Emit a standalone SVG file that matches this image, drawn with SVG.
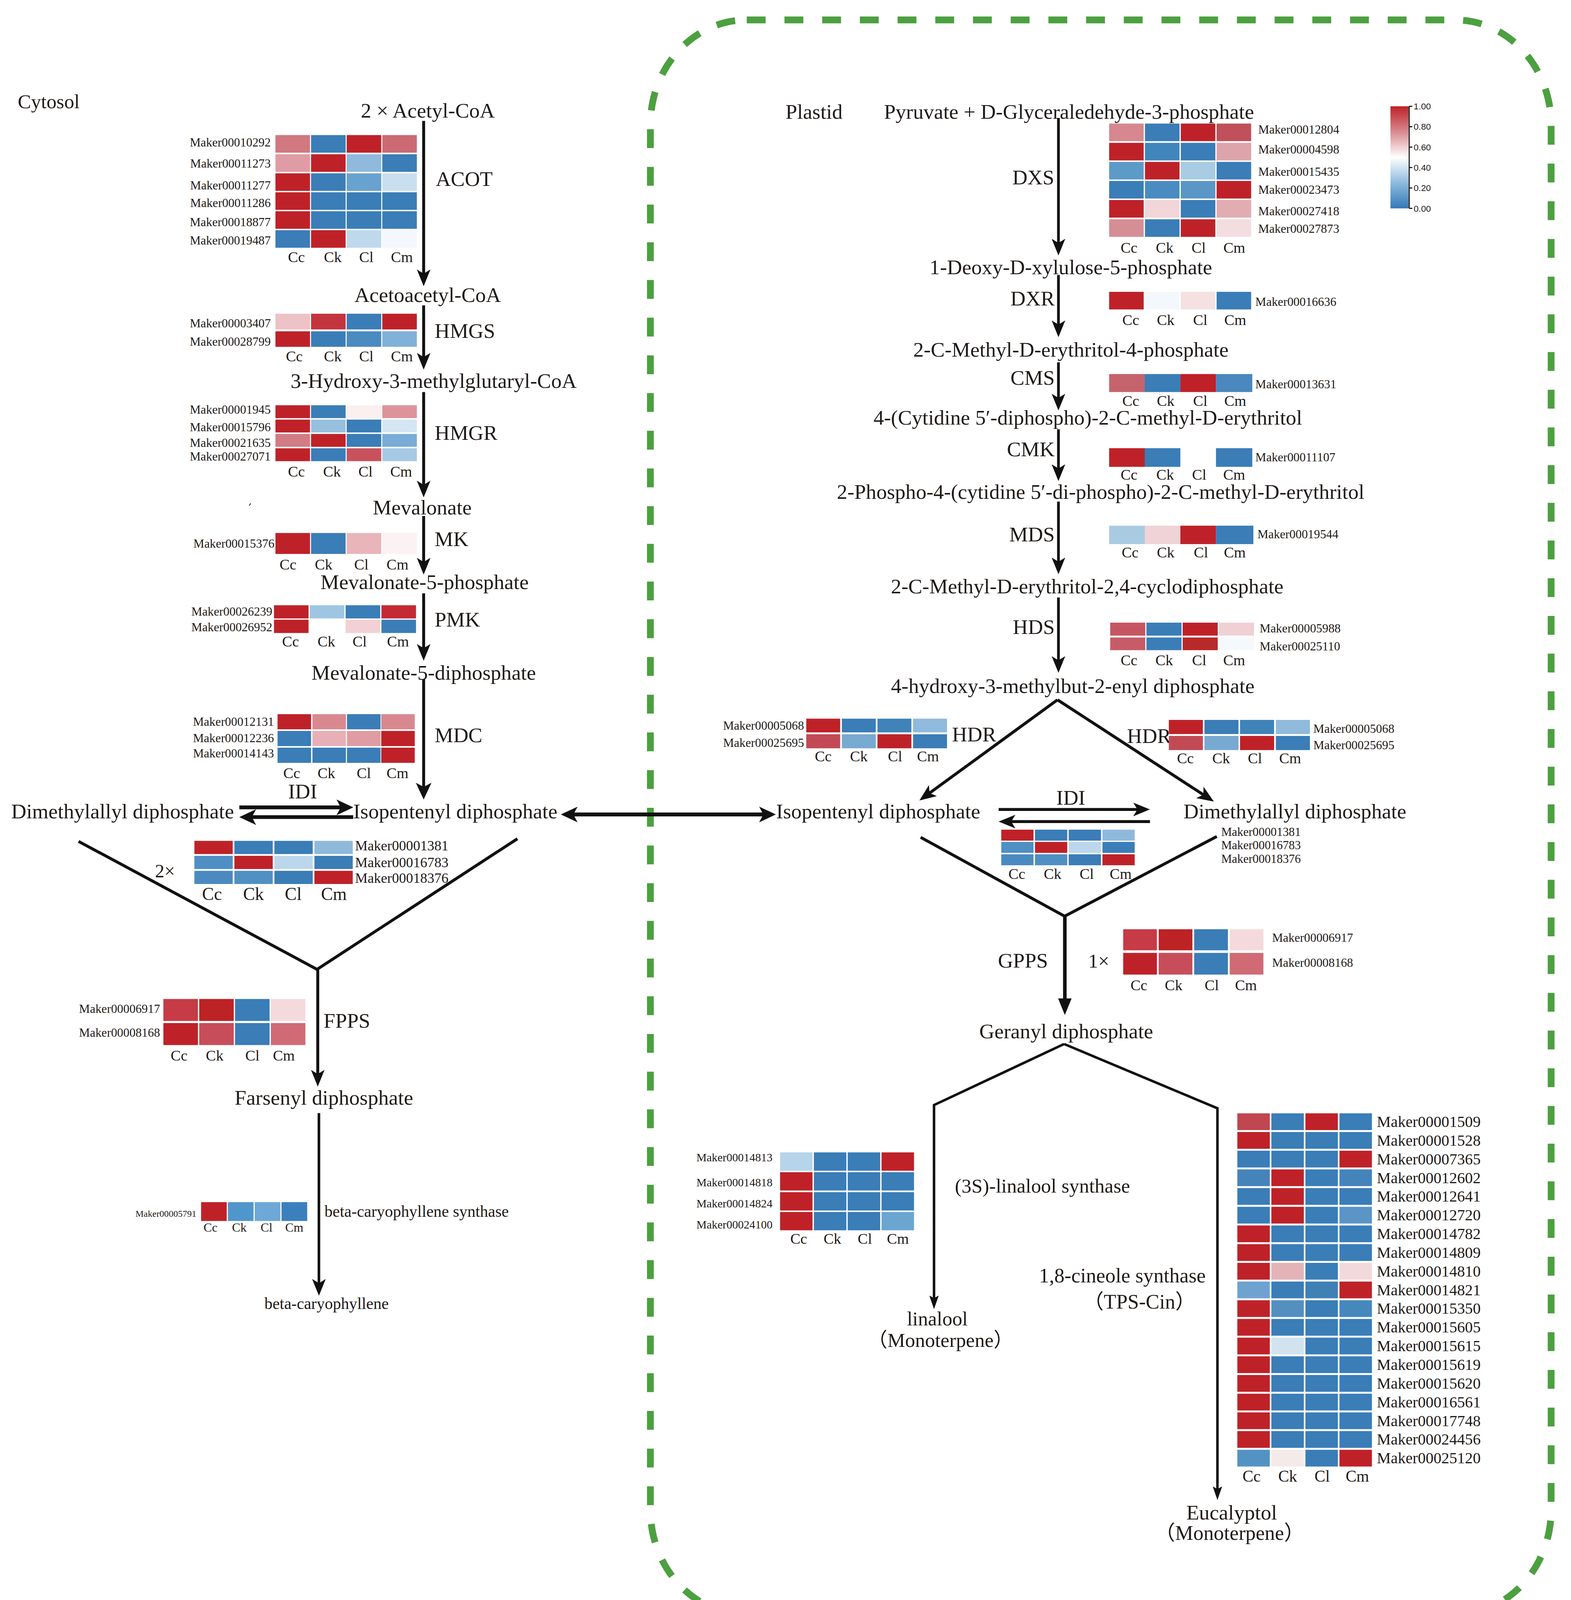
<svg xmlns="http://www.w3.org/2000/svg" width="4021" height="4179" viewBox="0 0 4021 4179">
<style>
.t{font-family:"Liberation Serif","Times New Roman","Noto Sans CJK SC",serif;fill:#1f1a17}
.m{font-size:20px}
.g{font-size:11.7px}
.c{font-size:14.5px}
.lg{font-family:"Liberation Sans",Arial,sans-serif;font-size:8.5px;fill:#1f1a17}
.R{fill:#be2228}
.B{fill:#3a7db7}
.ln{stroke:#111;fill:none}
</style>
<defs>
<marker id="ah" markerUnits="userSpaceOnUse" markerWidth="16" markerHeight="13" refX="8" refY="6.5" orient="auto-start-reverse"><path d="M0,0 L16,6.5 L0,13 L4,6.5 z" fill="#111"/></marker>
<marker id="ahl" markerUnits="userSpaceOnUse" markerWidth="16" markerHeight="15" refX="8" refY="7.5" orient="auto-start-reverse"><path d="M0,0 L16,7.5 L0,15 L4,7.5 z" fill="#111"/></marker>
<marker id="ahb" markerUnits="userSpaceOnUse" markerWidth="16" markerHeight="13" refX="8" refY="6.5" orient="auto"><path d="M0,0 L16,6.5 L0,13 z" fill="#111"/></marker>
<marker id="ahn" markerUnits="userSpaceOnUse" markerWidth="13" markerHeight="9" refX="6" refY="4.5" orient="auto"><path d="M0,0 L13,4.5 L0,9 L2.5,4.5 z" fill="#111"/></marker>
<linearGradient id="lgd" x1="0" y1="0" x2="0" y2="1">
<stop offset="0" stop-color="#bd2127"/><stop offset="0.25" stop-color="#d88a90"/><stop offset="0.5" stop-color="#ffffff"/><stop offset="0.75" stop-color="#8dbbdd"/><stop offset="1" stop-color="#3479b6"/>
</linearGradient>
</defs>
<rect width="4021" height="4179" fill="#fff"/>
<g transform="scale(2.6807)">

<g id="plastid-border"><rect x="621" y="19" width="860" height="1523" rx="92" ry="100" fill="none" stroke="#4ca040" stroke-width="6.5" stroke-dasharray="18 18"/></g>

<g id="connectors">
<line class="ln" x1="404.5" y1="115.5" x2="404.5" y2="265.3" stroke-width="2.8" marker-end="url(#ah)"/>
<line class="ln" x1="404.5" y1="291.6" x2="404.5" y2="345" stroke-width="2.8" marker-end="url(#ah)"/>
<line class="ln" x1="404.5" y1="374.4" x2="404.5" y2="467" stroke-width="2.8" marker-end="url(#ah)"/>
<line class="ln" x1="404.5" y1="492.8" x2="404.5" y2="540.7" stroke-width="2.8" marker-end="url(#ah)"/>
<line class="ln" x1="404.5" y1="566.6" x2="404.5" y2="623" stroke-width="2.8" marker-end="url(#ah)"/>
<line class="ln" x1="404.5" y1="648.7" x2="404.5" y2="755.5" stroke-width="2.8" marker-end="url(#ahl)"/>
<line class="ln" x1="228.5" y1="771" x2="329.3" y2="771" stroke-width="3.6" marker-end="url(#ahl)"/>
<line class="ln" x1="337.3" y1="780.3" x2="236.5" y2="780.3" stroke-width="3.6" marker-end="url(#ahl)"/>
<line class="ln" x1="543.5" y1="777.8" x2="732.8" y2="777.8" stroke-width="3.7" marker-start="url(#ahl)" marker-end="url(#ahl)"/>
<polyline class="ln" points="75,803.5 302.7,925.7 494,801" stroke-width="2.8"/>
<line class="ln" x1="303.4" y1="925.7" x2="303.4" y2="1029.7" stroke-width="2.8" marker-end="url(#ah)"/>
<line class="ln" x1="304.5" y1="1063" x2="304.5" y2="1229.4" stroke-width="2.5" marker-end="url(#ah)"/>
<line class="ln" x1="1010.6" y1="112.7" x2="1010.6" y2="236" stroke-width="2.6" marker-end="url(#ah)"/>
<line class="ln" x1="1010.6" y1="262.6" x2="1010.6" y2="314" stroke-width="2.6" marker-end="url(#ah)"/>
<line class="ln" x1="1010.6" y1="346" x2="1010.6" y2="384" stroke-width="2.6" marker-end="url(#ah)"/>
<line class="ln" x1="1010.6" y1="410" x2="1010.6" y2="451.4" stroke-width="2.6" marker-end="url(#ah)"/>
<line class="ln" x1="1010.6" y1="479" x2="1010.6" y2="540.4" stroke-width="2.6" marker-end="url(#ah)"/>
<line class="ln" x1="1010.6" y1="570.6" x2="1010.6" y2="634.6" stroke-width="2.6" marker-end="url(#ah)"/>
<line class="ln" x1="1009.7" y1="668.3" x2="884.3" y2="759.7" stroke-width="2.8" marker-end="url(#ah)"/>
<line class="ln" x1="1009.7" y1="668.3" x2="1152.3" y2="761.1" stroke-width="2.8" marker-end="url(#ah)"/>
<line class="ln" x1="953.5" y1="773" x2="1090" y2="773" stroke-width="2.8" marker-end="url(#ah)"/>
<line class="ln" x1="1098" y1="784.6" x2="961.5" y2="784.6" stroke-width="2.8" marker-end="url(#ah)"/>
<polyline class="ln" points="879,799.6 1016.5,875 1161.8,798.8" stroke-width="2.8"/>
<line class="ln" x1="1016.7" y1="875" x2="1016.7" y2="961.3" stroke-width="3.4" marker-end="url(#ahb)"/>
<path class="ln" d="M1016,997 L891.8,1055.3 L891.8,1243.2" stroke-width="2.4" marker-end="url(#ahn)"/>
<path class="ln" d="M1016,997 L1162.4,1058.4 L1162.4,1425.5" stroke-width="2.4" marker-end="url(#ahn)"/>
<line class="ln" x1="238" y1="483" x2="239.3" y2="480.6" stroke-width="0.7"/>
</g>

<g id="cytosol-label"><text class="t" x="17" y="103.3" font-size="19">Cytosol</text></g>
<g id="acetyl-coa"><text class="t m" x="344.5" y="112.2">2 × Acetyl-CoA</text></g>
<g id="acot"><text class="t m" x="416" y="177.5">ACOT</text></g>
<g id="hm-acot">
<rect x="263" y="129" width="33" height="16.8" fill="#d17880"/><rect x="297" y="129" width="33" height="16.8" class="B"/><rect x="331" y="129" width="33" height="16.8" class="R"/><rect x="365" y="129" width="33" height="16.8" fill="#cc6a74"/>
<rect x="263" y="147.3" width="33" height="16.8" fill="#e09ca4"/><rect x="297" y="147.3" width="33" height="16.8" class="R"/><rect x="331" y="147.3" width="33" height="16.8" fill="#8fbadb"/><rect x="365" y="147.3" width="33" height="16.8" class="B"/>
<rect x="263" y="165.5" width="33" height="16.8" class="R"/><rect x="297" y="165.5" width="33" height="16.8" class="B"/><rect x="331" y="165.5" width="33" height="16.8" fill="#68a2cf"/><rect x="365" y="165.5" width="33" height="16.8" fill="#c9dff0"/>
<rect x="263" y="183.6" width="33" height="16.8" class="R"/><rect x="297" y="183.6" width="33" height="16.8" class="B"/><rect x="331" y="183.6" width="33" height="16.8" class="B"/><rect x="365" y="183.6" width="33" height="16.8" class="B"/>
<rect x="263" y="201.7" width="33" height="16.8" class="R"/><rect x="297" y="201.7" width="33" height="16.8" class="B"/><rect x="331" y="201.7" width="33" height="16.8" class="B"/><rect x="365" y="201.7" width="33" height="16.8" class="B"/>
<rect x="263" y="219.8" width="33" height="16.8" class="B"/><rect x="297" y="219.8" width="33" height="16.8" class="R"/><rect x="331" y="219.8" width="33" height="16.8" fill="#bfd9ec"/><rect x="365" y="219.8" width="33" height="16.8" fill="#f4f7fb"/>
<g class="t g" text-anchor="end"><text x="258.5" y="140">Maker00010292</text><text x="258.5" y="160.2">Maker00011273</text><text x="258.5" y="180.8">Maker00011277</text><text x="258.5" y="197.6">Maker00011286</text><text x="258.5" y="216.1">Maker00018877</text><text x="258.5" y="233.7">Maker00019487</text></g>
<g class="t c" text-anchor="middle"><text x="283" y="250.3">Cc</text><text x="317.7" y="250.3">Ck</text><text x="349.8" y="250.3">Cl</text><text x="383.7" y="250.3">Cm</text></g>
</g>

<g id="acetoacetyl-coa"><text class="t m" x="338.4" y="288.3">Acetoacetyl-CoA</text></g>
<g id="hmgs"><text class="t m" x="415" y="322.6">HMGS</text></g>
<g id="hm-hmgs">
<rect x="263" y="299.6" width="33" height="15" fill="#ecc2c7"/><rect x="297" y="299.6" width="33" height="15" fill="#c3343e"/><rect x="331" y="299.6" width="33" height="15" class="B"/><rect x="365" y="299.6" width="33" height="15" class="R"/>
<rect x="263" y="316.4" width="33" height="14.8" class="R"/><rect x="297" y="316.4" width="33" height="14.8" class="B"/><rect x="331" y="316.4" width="33" height="14.8" fill="#4a8bc2"/><rect x="365" y="316.4" width="33" height="14.8" fill="#80b1d8"/>
<g class="t g" text-anchor="end"><text x="258.5" y="312.5">Maker00003407</text><text x="258.5" y="330.3">Maker00028799</text></g>
<g class="t c" text-anchor="middle"><text x="281" y="345.2">Cc</text><text x="317.7" y="345.2">Ck</text><text x="349.8" y="345.2">Cl</text><text x="383.7" y="345.2">Cm</text></g>
</g>

<g id="hmg-coa"><text class="t m" x="277.4" y="370.3">3-Hydroxy-3-methylglutaryl-CoA</text></g>
<g id="hmgr"><text class="t m" x="415" y="420.2">HMGR</text></g>
<g id="hm-hmgr">
<rect x="263" y="387" width="33" height="12.3" class="R"/><rect x="297" y="387" width="33" height="12.3" class="B"/><rect x="331" y="387" width="33" height="12.3" fill="#fbeff0"/><rect x="365" y="387" width="33" height="12.3" fill="#dd939a"/>
<rect x="263" y="400.7" width="33" height="12.3" class="R"/><rect x="297" y="400.7" width="33" height="12.3" fill="#97c0df"/><rect x="331" y="400.7" width="33" height="12.3" class="B"/><rect x="365" y="400.7" width="33" height="12.3" fill="#d4e6f3"/>
<rect x="263" y="414.4" width="33" height="12.3" fill="#d27c85"/><rect x="297" y="414.4" width="33" height="12.3" class="R"/><rect x="331" y="414.4" width="33" height="12.3" class="B"/><rect x="365" y="414.4" width="33" height="12.3" fill="#79acd6"/>
<rect x="263" y="428.1" width="33" height="12.3" class="R"/><rect x="297" y="428.1" width="33" height="12.3" class="B"/><rect x="331" y="428.1" width="33" height="12.3" fill="#c8525c"/><rect x="365" y="428.1" width="33" height="12.3" fill="#a6c9e4"/>
<g class="t g" text-anchor="end"><text x="258.5" y="395">Maker00001945</text><text x="258.5" y="411.7">Maker00015796</text><text x="258.5" y="426.7">Maker00021635</text><text x="258.5" y="439.8">Maker00027071</text></g>
<g class="t c" text-anchor="middle"><text x="283" y="455">Cc</text><text x="317" y="455">Ck</text><text x="349" y="455">Cl</text><text x="383" y="455">Cm</text></g>
</g>

<g id="mevalonate"><text class="t m" x="356" y="491.2">Mevalonate</text></g>
<g id="mk"><text class="t m" x="415" y="521.6">MK</text></g>
<g id="hm-mk">
<rect x="263" y="509" width="33" height="20" class="R"/><rect x="297" y="509" width="33" height="20" class="B"/><rect x="331" y="509" width="33" height="20" fill="#e8b5ba"/><rect x="365" y="509" width="33" height="20" fill="#fcf2f3"/>
<text class="t g" x="262" y="523" text-anchor="end">Maker00015376</text>
<g class="t c" text-anchor="middle"><text x="275" y="543.8">Cc</text><text x="309" y="543.8">Ck</text><text x="345" y="543.8">Cl</text><text x="379.5" y="543.8">Cm</text></g>
</g>

<g id="mevalonate-5-p"><text class="t m" x="306" y="562.4">Mevalonate-5-phosphate</text></g>
<g id="pmk"><text class="t m" x="415" y="598.3">PMK</text></g>
<g id="hm-pmk">
<rect x="261.6" y="578" width="33" height="12.6" class="R"/><rect x="295.8" y="578" width="33" height="12.6" fill="#9ec6e3"/><rect x="330" y="578" width="33" height="12.6" class="B"/><rect x="364.2" y="578" width="33" height="12.6" fill="#c42a33"/>
<rect x="261.6" y="591.8" width="33" height="12.7" class="R"/><rect x="330" y="591.8" width="33" height="12.7" fill="#f2d0d5"/><rect x="364.2" y="591.8" width="33" height="12.7" class="B"/>
<g class="t g" text-anchor="end"><text x="260" y="587.8">Maker00026239</text><text x="260" y="602.8">Maker00026952</text></g>
<g class="t c" text-anchor="middle"><text x="277.4" y="617.3">Cc</text><text x="311.6" y="617.3">Ck</text><text x="343.4" y="617.3">Cl</text><text x="380" y="617.3">Cm</text></g>
</g>

<g id="mevalonate-5-pp"><text class="t m" x="297.4" y="648.9">Mevalonate-5-diphosphate</text></g>
<g id="mdc"><text class="t m" x="415" y="708.6">MDC</text></g>
<g id="hm-mdc">
<rect x="265" y="682" width="32" height="14.5" class="R"/><rect x="298.3" y="682" width="32" height="14.5" fill="#d9888f"/><rect x="331.3" y="682" width="32" height="14.5" class="B"/><rect x="364" y="682" width="32" height="14.5" fill="#d98890"/>
<rect x="265" y="698" width="32" height="14.5" class="B"/><rect x="298.3" y="698" width="32" height="14.5" fill="#e8b0b6"/><rect x="331.3" y="698" width="32" height="14.5" fill="#e09ca3"/><rect x="364" y="698" width="32" height="14.5" class="R"/>
<rect x="265" y="714" width="32" height="14.5" class="B"/><rect x="298.3" y="714" width="32" height="14.5" class="B"/><rect x="331.3" y="714" width="32" height="14.5" class="B"/><rect x="364" y="714" width="32" height="14.5" class="R"/>
<g class="t g" text-anchor="end"><text x="261.6" y="693">Maker00012131</text><text x="261.6" y="708.6">Maker00012236</text><text x="261.6" y="723.3">Maker00014143</text></g>
<g class="t c" text-anchor="middle"><text x="278.5" y="743.1">Cc</text><text x="311.6" y="743.1">Ck</text><text x="347.4" y="743.1">Cl</text><text x="379.5" y="743.1">Cm</text></g>
</g>

<g id="idi-left"><text class="t m" x="289" y="762.4" text-anchor="middle">IDI</text></g>
<g id="dmapp-left"><text class="t m" x="10.7" y="781.4">Dimethylallyl diphosphate</text></g>
<g id="ipp-left"><text class="t m" x="337.3" y="781.4">Isopentenyl diphosphate</text></g>
<g id="hm-idi-left">
<rect x="185.6" y="803" width="36.6" height="12.6" class="R"/><rect x="223.8" y="803" width="36.6" height="12.6" class="B"/><rect x="262" y="803" width="36.6" height="12.6" class="B"/><rect x="300.2" y="803" width="36.6" height="12.6" fill="#8fb9db"/>
<rect x="185.6" y="817.3" width="36.6" height="12.6" fill="#4f8fc4"/><rect x="223.8" y="817.3" width="36.6" height="12.6" class="R"/><rect x="262" y="817.3" width="36.6" height="12.6" fill="#bcd7ec"/><rect x="300.2" y="817.3" width="36.6" height="12.6" class="B"/>
<rect x="185.6" y="831.6" width="36.6" height="12.6" fill="#4a8ac0"/><rect x="223.8" y="831.6" width="36.6" height="12.6" fill="#5090c3"/><rect x="262" y="831.6" width="36.6" height="12.6" class="B"/><rect x="300.2" y="831.6" width="36.6" height="12.6" class="R"/>
<g class="t" font-size="13.5"><text x="339" y="812.2">Maker00001381</text><text x="339" y="828.1">Maker00016783</text><text x="339" y="842.9">Maker00018376</text></g>
<text class="t" x="148" y="838" font-size="18">2×</text>
<g class="t" font-size="17" text-anchor="middle"><text x="202.4" y="859.4">Cc</text><text x="242" y="859.4">Ck</text><text x="280" y="859.4">Cl</text><text x="318.8" y="859.4">Cm</text></g>
</g>

<g id="fpps"><text class="t m" x="309" y="981.6">FPPS</text></g>
<g id="hm-fpps">
<rect x="156" y="954" width="33" height="21" fill="#c63b45"/><rect x="190.2" y="954" width="33" height="21" fill="#bd2224"/><rect x="224.4" y="954" width="33" height="21" class="B"/><rect x="258.6" y="954" width="33" height="21" fill="#f5dadd"/>
<rect x="156" y="977" width="33" height="21" class="R"/><rect x="190.2" y="977" width="33" height="21" fill="#c84d5a"/><rect x="224.4" y="977" width="33" height="21" class="B"/><rect x="258.6" y="977" width="33" height="21" fill="#d06b76"/>
<g class="t g" text-anchor="end"><text x="152.8" y="967.4">Maker00006917</text><text x="152.8" y="990.2">Maker00008168</text></g>
<g class="t c" text-anchor="middle"><text x="171" y="1012.9">Cc</text><text x="205" y="1012.9">Ck</text><text x="241" y="1012.9">Cl</text><text x="271" y="1012.9">Cm</text></g>
</g>

<g id="fpp"><text class="t m" x="224" y="1055">Farsenyl diphosphate</text></g>
<g id="bcs"><text class="t" x="309.8" y="1162" font-size="15.5">beta-caryophyllene synthase</text></g>
<g id="hm-bcs">
<rect x="192" y="1148" width="24.5" height="18" class="R"/><rect x="217.6" y="1148" width="24.5" height="18" fill="#4f96cc"/><rect x="243.2" y="1148" width="24.5" height="18" fill="#6ea8d8"/><rect x="268.8" y="1148" width="24.5" height="18" fill="#3b80bd"/>
<text class="t" x="187.5" y="1162" font-size="8.8" text-anchor="end">Maker00005791</text>
<g class="t" font-size="12" text-anchor="middle"><text x="201" y="1176.3">Cc</text><text x="228.5" y="1176.3">Ck</text><text x="254.5" y="1176.3">Cl</text><text x="281" y="1176.3">Cm</text></g>
</g>
<g id="beta-caryophyllene"><text class="t" x="311.8" y="1250" font-size="15.5" text-anchor="middle">beta-caryophyllene</text></g>

<g id="plastid-label"><text class="t m" x="750" y="113.3">Plastid</text></g>
<g id="pyruvate-g3p"><text class="t m" x="844" y="113.5">Pyruvate + D-Glyceraledehyde-3-phosphate</text></g>
<g id="dxs"><text class="t m" x="1006.6" y="176" text-anchor="end">DXS</text></g>
<g id="hm-dxs">
<rect x="1059" y="118" width="33" height="16.8" fill="#d6878f"/><rect x="1093.2" y="118" width="33" height="16.8" class="B"/><rect x="1127.4" y="118" width="33" height="16.8" class="R"/><rect x="1161.6" y="118" width="33" height="16.8" fill="#c0505a"/>
<rect x="1059" y="136.4" width="33" height="16.8" class="R"/><rect x="1093.2" y="136.4" width="33" height="16.8" fill="#4086bd"/><rect x="1127.4" y="136.4" width="33" height="16.8" class="B"/><rect x="1161.6" y="136.4" width="33" height="16.8" fill="#dea4ab"/>
<rect x="1059" y="154.6" width="33" height="16.8" fill="#5c9ac8"/><rect x="1093.2" y="154.6" width="33" height="16.8" class="R"/><rect x="1127.4" y="154.6" width="33" height="16.8" fill="#a9cbe3"/><rect x="1161.6" y="154.6" width="33" height="16.8" class="B"/>
<rect x="1059" y="172.8" width="33" height="16.8" class="B"/><rect x="1093.2" y="172.8" width="33" height="16.8" fill="#4a8bc2"/><rect x="1127.4" y="172.8" width="33" height="16.8" fill="#5a96c6"/><rect x="1161.6" y="172.8" width="33" height="16.8" class="R"/>
<rect x="1059" y="191" width="33" height="16.8" class="R"/><rect x="1093.2" y="191" width="33" height="16.8" fill="#f2d5d8"/><rect x="1127.4" y="191" width="33" height="16.8" class="B"/><rect x="1161.6" y="191" width="33" height="16.8" fill="#e1acb2"/>
<rect x="1059" y="209.4" width="33" height="16.8" fill="#d68e96"/><rect x="1093.2" y="209.4" width="33" height="16.8" class="B"/><rect x="1127.4" y="209.4" width="33" height="16.8" class="R"/><rect x="1161.6" y="209.4" width="33" height="16.8" fill="#f2dee1"/>
<g class="t g"><text x="1201.4" y="127.4">Maker00012804</text><text x="1201.4" y="146.5">Maker00004598</text><text x="1201.4" y="168">Maker00015435</text><text x="1201.4" y="185">Maker00023473</text><text x="1201.4" y="205.7">Maker00027418</text><text x="1201.4" y="222.3">Maker00027873</text></g>
<g class="t c" text-anchor="middle"><text x="1078" y="241.2">Cc</text><text x="1112" y="241.2">Ck</text><text x="1144.5" y="241.2">Cl</text><text x="1178.5" y="241.2">Cm</text></g>
</g>

<g id="legend">
<rect x="1327.6" y="101.5" width="17.4" height="97.5" fill="url(#lgd)"/>
<path d="M1345.5,101.5 V199 M1345.5,101.5 h3 M1345.5,121 h3 M1345.5,140.5 h3 M1345.5,160 h3 M1345.5,179.5 h3 M1345.5,199 h3" stroke="#111" stroke-width="1" fill="none"/>
<g class="lg"><text x="1349.7" y="104.5">1.00</text><text x="1349.7" y="124">0.80</text><text x="1349.7" y="143.5">0.60</text><text x="1349.7" y="163">0.40</text><text x="1349.7" y="182.5">0.20</text><text x="1349.7" y="202">0.00</text></g>
</g>

<g id="dxp"><text class="t m" x="887.5" y="262">1-Deoxy-D-xylulose-5-phosphate</text></g>
<g id="dxr"><text class="t m" x="1007" y="291.6" text-anchor="end">DXR</text></g>
<g id="hm-dxr">
<rect x="1059" y="278.7" width="33" height="16.8" class="R"/><rect x="1093.2" y="278.7" width="33" height="16.8" fill="#f4f8fc"/><rect x="1127.4" y="278.7" width="33" height="16.8" fill="#f5e0e2"/><rect x="1161.6" y="278.7" width="33" height="16.8" class="B"/>
<text class="t g" x="1198.6" y="292">Maker00016636</text>
<g class="t c" text-anchor="middle"><text x="1079.6" y="310.2">Cc</text><text x="1113" y="310.2">Ck</text><text x="1146" y="310.2">Cl</text><text x="1179.4" y="310.2">Cm</text></g>
</g>

<g id="mep"><text class="t m" x="872" y="340.6">2-C-Methyl-D-erythritol-4-phosphate</text></g>
<g id="cms"><text class="t m" x="1007" y="367.6" text-anchor="end">CMS</text></g>
<g id="hm-cms">
<rect x="1059" y="357.2" width="34" height="17.2" fill="#c5636c"/><rect x="1093" y="357.2" width="34" height="17.2" class="B"/><rect x="1127" y="357.2" width="34" height="17.2" class="R"/><rect x="1161" y="357.2" width="34.7" height="17.2" fill="#4a88bd"/>
<text class="t g" x="1198.6" y="370.7">Maker00013631</text>
<g class="t c" text-anchor="middle"><text x="1079.6" y="387.6">Cc</text><text x="1113" y="387.6">Ck</text><text x="1146" y="387.6">Cl</text><text x="1179.4" y="387.6">Cm</text></g>
</g>

<g id="cdp-me"><text class="t m" x="834" y="405.6">4-(Cytidine 5′-diphospho)-2-C-methyl-D-erythritol</text></g>
<g id="cmk"><text class="t m" x="1007" y="435.6" text-anchor="end">CMK</text></g>
<g id="hm-cmk">
<rect x="1059" y="428" width="34" height="17.8" class="R"/><rect x="1093" y="428" width="34" height="17.8" class="B"/><rect x="1161" y="428" width="34.7" height="17.8" class="B"/>
<text class="t g" x="1198.6" y="440.7">Maker00011107</text>
<g class="t c" text-anchor="middle"><text x="1078" y="458">Cc</text><text x="1112.5" y="458">Ck</text><text x="1145" y="458">Cl</text><text x="1178.4" y="458">Cm</text></g>
</g>

<g id="cdp-mep"><text class="t m" x="799" y="476.5">2-Phospho-4-(cytidine 5′-di-phospho)-2-C-methyl-D-erythritol</text></g>
<g id="mds"><text class="t m" x="1007" y="517" text-anchor="end">MDS</text></g>
<g id="hm-mds">
<rect x="1059" y="502" width="34" height="17.6" fill="#a9cbe2"/><rect x="1093" y="502" width="34" height="17.6" fill="#f0d3d7"/><rect x="1127" y="502" width="34" height="17.6" class="R"/><rect x="1161" y="502" width="35.7" height="17.6" class="B"/>
<text class="t g" x="1200.6" y="514">Maker00019544</text>
<g class="t c" text-anchor="middle"><text x="1079" y="532.3">Cc</text><text x="1113" y="532.3">Ck</text><text x="1146.7" y="532.3">Cl</text><text x="1179" y="532.3">Cm</text></g>
</g>

<g id="mecpp"><text class="t m" x="850.6" y="566.6">2-C-Methyl-D-erythritol-2,4-cyclodiphosphate</text></g>
<g id="hds"><text class="t m" x="1007" y="605.6" text-anchor="end">HDS</text></g>
<g id="hm-hds">
<rect x="1060" y="594.6" width="33.5" height="12.4" fill="#c55561"/><rect x="1094.6" y="594.6" width="33.5" height="12.4" class="B"/><rect x="1129.2" y="594.6" width="33.5" height="12.4" class="R"/><rect x="1163.8" y="594.6" width="33.5" height="12.4" fill="#f0d0d5"/>
<rect x="1060" y="608.8" width="33.5" height="12.1" fill="#c85b68"/><rect x="1094.6" y="608.8" width="33.5" height="12.1" class="B"/><rect x="1129.2" y="608.8" width="33.5" height="12.1" fill="#b82a2a"/><rect x="1163.8" y="608.8" width="33.5" height="12.1" fill="#f6f9fc"/>
<g class="t g"><text x="1202.7" y="604">Maker00005988</text><text x="1202.7" y="621.2">Maker00025110</text></g>
<g class="t c" text-anchor="middle"><text x="1078" y="635.1">Cc</text><text x="1111.6" y="635.1">Ck</text><text x="1145" y="635.1">Cl</text><text x="1178.4" y="635.1">Cm</text></g>
</g>

<g id="hmbpp"><text class="t m" x="850.7" y="661.6">4-hydroxy-3-methylbut-2-enyl diphosphate</text></g>
<g id="hdr-left"><text class="t m" x="909" y="708">HDR</text></g>
<g id="hm-hdr-left">
<rect x="769.8" y="686.3" width="32.4" height="13.1" class="R"/><rect x="803.8" y="686.3" width="32.4" height="13.1" class="B"/><rect x="837.8" y="686.3" width="32.4" height="13.1" fill="#3f83b9"/><rect x="871.8" y="686.3" width="32.4" height="13.1" fill="#8fbadb"/>
<rect x="769.8" y="701.2" width="32.4" height="13.4" fill="#c14a55"/><rect x="803.8" y="701.2" width="32.4" height="13.4" fill="#78a9d1"/><rect x="837.8" y="701.2" width="32.4" height="13.4" class="R"/><rect x="871.8" y="701.2" width="32.4" height="13.4" class="B"/>
<g class="t g" text-anchor="end"><text x="767.7" y="696.8">Maker00005068</text><text x="767.7" y="713.3">Maker00025695</text></g>
<g class="t c" text-anchor="middle"><text x="786" y="727.2">Cc</text><text x="820" y="727.2">Ck</text><text x="854.6" y="727.2">Cl</text><text x="886" y="727.2">Cm</text></g>
</g>
<g id="hdr-right"><text class="t m" x="1076" y="709.6">HDR</text></g>
<g id="hm-hdr-right">
<rect x="1116" y="687.5" width="32.5" height="13.5" class="R"/><rect x="1150" y="687.5" width="32.5" height="13.5" class="B"/><rect x="1184" y="687.5" width="32.5" height="13.5" fill="#3f83b9"/><rect x="1218.2" y="687.5" width="32.5" height="13.5" fill="#8fbadb"/>
<rect x="1116" y="702.8" width="32.5" height="13.5" fill="#c14a55"/><rect x="1150" y="702.8" width="32.5" height="13.5" fill="#78a9d1"/><rect x="1184" y="702.8" width="32.5" height="13.5" class="R"/><rect x="1218.2" y="702.8" width="32.5" height="13.5" class="B"/>
<g class="t g"><text x="1254" y="699.7">Maker00005068</text><text x="1254" y="715.4">Maker00025695</text></g>
<g class="t c" text-anchor="middle"><text x="1131.8" y="729.1">Cc</text><text x="1165.9" y="729.1">Ck</text><text x="1198.2" y="729.1">Cl</text><text x="1231.8" y="729.1">Cm</text></g>
</g>

<g id="ipp-right"><text class="t m" x="741" y="781.4">Isopentenyl diphosphate</text></g>
<g id="idi-right"><text class="t m" x="1022.4" y="768.3" text-anchor="middle">IDI</text></g>
<g id="dmapp-right"><text class="t m" x="1130" y="781.4">Dimethylallyl diphosphate</text></g>
<g id="hm-idi-right">
<rect x="956" y="792.3" width="30.8" height="10.5" class="R"/><rect x="988.2" y="792.3" width="30.8" height="10.5" class="B"/><rect x="1020.4" y="792.3" width="30.8" height="10.5" class="B"/><rect x="1052.6" y="792.3" width="30.8" height="10.5" fill="#8fb9db"/>
<rect x="956" y="804" width="30.8" height="10.5" fill="#4f8fc4"/><rect x="988.2" y="804" width="30.8" height="10.5" class="R"/><rect x="1020.4" y="804" width="30.8" height="10.5" fill="#bcd7ec"/><rect x="1052.6" y="804" width="30.8" height="10.5" class="B"/>
<rect x="956" y="815.8" width="30.8" height="10.5" fill="#4a8ac0"/><rect x="988.2" y="815.8" width="30.8" height="10.5" fill="#4f8fc4"/><rect x="1020.4" y="815.8" width="30.8" height="10.5" class="B"/><rect x="1052.6" y="815.8" width="30.8" height="10.5" class="R"/>
<g class="t" font-size="11.5"><text x="1166" y="798.4">Maker00001381</text><text x="1166" y="811">Maker00016783</text><text x="1166" y="824">Maker00018376</text></g>
<g class="t c" text-anchor="middle"><text x="970.9" y="839.3">Cc</text><text x="1005" y="839.3">Ck</text><text x="1037.6" y="839.3">Cl</text><text x="1070" y="839.3">Cm</text></g>
</g>

<g id="gpps"><text class="t m" x="952.8" y="924">GPPS</text><text class="t" x="1039" y="924" font-size="19">1×</text></g>
<g id="hm-gpps">
<rect x="1072.4" y="887.4" width="32.2" height="20.1" fill="#c63b45"/><rect x="1106.3" y="887.4" width="32.2" height="20.1" fill="#bd2224"/><rect x="1140.2" y="887.4" width="32.2" height="20.1" class="B"/><rect x="1174.1" y="887.4" width="32.2" height="20.1" fill="#f5dadd"/>
<rect x="1072.4" y="910" width="32.2" height="20.7" class="R"/><rect x="1106.3" y="910" width="32.2" height="20.7" fill="#c84d5a"/><rect x="1140.2" y="910" width="32.2" height="20.7" class="B"/><rect x="1174.1" y="910" width="32.2" height="20.7" fill="#d06b76"/>
<g class="t g"><text x="1214.6" y="899.5">Maker00006917</text><text x="1214.6" y="923.3">Maker00008168</text></g>
<g class="t c" text-anchor="middle"><text x="1087.4" y="945.6">Cc</text><text x="1120.6" y="945.6">Ck</text><text x="1157" y="945.6">Cl</text><text x="1189.6" y="945.6">Cm</text></g>
</g>

<g id="gpp"><text class="t m" x="935" y="991.4">Geranyl diphosphate</text></g>
<g id="linalool-synthase"><text class="t" x="911.7" y="1139" font-size="19">(3S)-linalool synthase</text></g>
<g id="hm-linalool">
<rect x="744.8" y="1100.5" width="31" height="17.5" fill="#b6d4ea"/><rect x="777.1" y="1100.5" width="31" height="17.5" class="B"/><rect x="809.4" y="1100.5" width="31" height="17.5" class="B"/><rect x="841.7" y="1100.5" width="31" height="17.5" class="R"/>
<rect x="744.8" y="1119.4" width="31" height="17.5" class="R"/><rect x="777.1" y="1119.4" width="31" height="17.5" class="B"/><rect x="809.4" y="1119.4" width="31" height="17.5" class="B"/><rect x="841.7" y="1119.4" width="31" height="17.5" class="B"/>
<rect x="744.8" y="1138.5" width="31" height="17.5" class="R"/><rect x="777.1" y="1138.5" width="31" height="17.5" class="B"/><rect x="809.4" y="1138.5" width="31" height="17.5" class="B"/><rect x="841.7" y="1138.5" width="31" height="17.5" class="B"/>
<rect x="744.8" y="1157.4" width="31" height="17.5" class="R"/><rect x="777.1" y="1157.4" width="31" height="17.5" class="B"/><rect x="809.4" y="1157.4" width="31" height="17.5" class="B"/><rect x="841.7" y="1157.4" width="31" height="17.5" fill="#6aa6d0"/>
<g class="t" font-size="11" text-anchor="end"><text x="737.6" y="1109.2">Maker00014813</text><text x="737.6" y="1133">Maker00014818</text><text x="737.6" y="1153.2">Maker00014824</text><text x="737.6" y="1173.3">Maker00024100</text></g>
<g class="t c" text-anchor="middle"><text x="762.6" y="1187.6">Cc</text><text x="794.8" y="1187.6">Ck</text><text x="825.8" y="1187.6">Cl</text><text x="857.3" y="1187.6">Cm</text></g>
</g>
<g id="linalool"><text class="t" x="895" y="1265.7" font-size="19" text-anchor="middle">linalool</text><text class="t" x="898" y="1286.4" font-size="19" text-anchor="middle">（Monoterpene）</text></g>

<g id="cineole-synthase"><text class="t" x="992" y="1224.8" font-size="19.5">1,8-cineole synthase</text><text class="t" x="1088" y="1249.5" font-size="19.5" text-anchor="middle">（TPS-Cin）</text></g>
<g id="hm-cineole">
<rect x="1181.4" y="1063.2" width="31" height="16" fill="#c0474f"/><rect x="1213.9" y="1063.2" width="31" height="16" class="B"/><rect x="1246.4" y="1063.2" width="31" height="16" class="R"/><rect x="1278.9" y="1063.2" width="31" height="16" class="B"/>
<rect x="1181.4" y="1081.05" width="31" height="16" class="R"/><rect x="1213.9" y="1081.05" width="31" height="16" class="B"/><rect x="1246.4" y="1081.05" width="31" height="16" class="B"/><rect x="1278.9" y="1081.05" width="31" height="16" class="B"/>
<rect x="1181.4" y="1098.9" width="31" height="16" class="B"/><rect x="1213.9" y="1098.9" width="31" height="16" class="B"/><rect x="1246.4" y="1098.9" width="31" height="16" class="B"/><rect x="1278.9" y="1098.9" width="31" height="16" class="R"/>
<rect x="1181.4" y="1116.75" width="31" height="16" fill="#4584ba"/><rect x="1213.9" y="1116.75" width="31" height="16" class="R"/><rect x="1246.4" y="1116.75" width="31" height="16" class="B"/><rect x="1278.9" y="1116.75" width="31" height="16" fill="#4584ba"/>
<rect x="1181.4" y="1134.6" width="31" height="16" class="B"/><rect x="1213.9" y="1134.6" width="31" height="16" class="R"/><rect x="1246.4" y="1134.6" width="31" height="16" class="B"/><rect x="1278.9" y="1134.6" width="31" height="16" class="B"/>
<rect x="1181.4" y="1152.45" width="31" height="16" class="B"/><rect x="1213.9" y="1152.45" width="31" height="16" class="R"/><rect x="1246.4" y="1152.45" width="31" height="16" class="B"/><rect x="1278.9" y="1152.45" width="31" height="16" fill="#5a95c6"/>
<rect x="1181.4" y="1170.3" width="31" height="16" class="R"/><rect x="1213.9" y="1170.3" width="31" height="16" class="B"/><rect x="1246.4" y="1170.3" width="31" height="16" class="B"/><rect x="1278.9" y="1170.3" width="31" height="16" class="B"/>
<rect x="1181.4" y="1188.15" width="31" height="16" class="R"/><rect x="1213.9" y="1188.15" width="31" height="16" class="B"/><rect x="1246.4" y="1188.15" width="31" height="16" class="B"/><rect x="1278.9" y="1188.15" width="31" height="16" class="B"/>
<rect x="1181.4" y="1206" width="31" height="16" class="R"/><rect x="1213.9" y="1206" width="31" height="16" fill="#e3b3b8"/><rect x="1246.4" y="1206" width="31" height="16" class="B"/><rect x="1278.9" y="1206" width="31" height="16" fill="#f2d9dc"/>
<rect x="1181.4" y="1223.85" width="31" height="16" fill="#6ea3cf"/><rect x="1213.9" y="1223.85" width="31" height="16" class="B"/><rect x="1246.4" y="1223.85" width="31" height="16" fill="#3f80b5"/><rect x="1278.9" y="1223.85" width="31" height="16" class="R"/>
<rect x="1181.4" y="1241.7" width="31" height="16" class="R"/><rect x="1213.9" y="1241.7" width="31" height="16" fill="#5390c0"/><rect x="1246.4" y="1241.7" width="31" height="16" class="B"/><rect x="1278.9" y="1241.7" width="31" height="16" fill="#4688bc"/>
<rect x="1181.4" y="1259.55" width="31" height="16" class="R"/><rect x="1213.9" y="1259.55" width="31" height="16" class="B"/><rect x="1246.4" y="1259.55" width="31" height="16" class="B"/><rect x="1278.9" y="1259.55" width="31" height="16" class="B"/>
<rect x="1181.4" y="1277.4" width="31" height="16" class="R"/><rect x="1213.9" y="1277.4" width="31" height="16" fill="#d2e3f0"/><rect x="1246.4" y="1277.4" width="31" height="16" class="B"/><rect x="1278.9" y="1277.4" width="31" height="16" class="B"/>
<rect x="1181.4" y="1295.25" width="31" height="16" class="R"/><rect x="1213.9" y="1295.25" width="31" height="16" class="B"/><rect x="1246.4" y="1295.25" width="31" height="16" class="B"/><rect x="1278.9" y="1295.25" width="31" height="16" class="B"/>
<rect x="1181.4" y="1313.1" width="31" height="16" class="R"/><rect x="1213.9" y="1313.1" width="31" height="16" class="B"/><rect x="1246.4" y="1313.1" width="31" height="16" class="B"/><rect x="1278.9" y="1313.1" width="31" height="16" class="B"/>
<rect x="1181.4" y="1330.95" width="31" height="16" class="R"/><rect x="1213.9" y="1330.95" width="31" height="16" class="B"/><rect x="1246.4" y="1330.95" width="31" height="16" class="B"/><rect x="1278.9" y="1330.95" width="31" height="16" class="B"/>
<rect x="1181.4" y="1348.8" width="31" height="16" class="R"/><rect x="1213.9" y="1348.8" width="31" height="16" class="B"/><rect x="1246.4" y="1348.8" width="31" height="16" class="B"/><rect x="1278.9" y="1348.8" width="31" height="16" class="B"/>
<rect x="1181.4" y="1366.65" width="31" height="16" class="R"/><rect x="1213.9" y="1366.65" width="31" height="16" class="B"/><rect x="1246.4" y="1366.65" width="31" height="16" class="B"/><rect x="1278.9" y="1366.65" width="31" height="16" class="B"/>
<rect x="1181.4" y="1384.5" width="31" height="16" fill="#5393c4"/><rect x="1213.9" y="1384.5" width="31" height="16" fill="#f5eaea"/><rect x="1246.4" y="1384.5" width="31" height="16" class="B"/><rect x="1278.9" y="1384.5" width="31" height="16" class="R"/>
<g class="t" font-size="15">
<text x="1314.6" y="1076.2">Maker00001509</text><text x="1314.6" y="1094.05">Maker00001528</text><text x="1314.6" y="1111.9">Maker00007365</text><text x="1314.6" y="1129.75">Maker00012602</text><text x="1314.6" y="1147.6">Maker00012641</text><text x="1314.6" y="1165.45">Maker00012720</text><text x="1314.6" y="1183.3">Maker00014782</text><text x="1314.6" y="1201.15">Maker00014809</text><text x="1314.6" y="1219">Maker00014810</text><text x="1314.6" y="1236.85">Maker00014821</text><text x="1314.6" y="1254.7">Maker00015350</text><text x="1314.6" y="1272.55">Maker00015605</text><text x="1314.6" y="1290.4">Maker00015615</text><text x="1314.6" y="1308.25">Maker00015619</text><text x="1314.6" y="1326.1">Maker00015620</text><text x="1314.6" y="1343.95">Maker00016561</text><text x="1314.6" y="1361.8">Maker00017748</text><text x="1314.6" y="1379.65">Maker00024456</text><text x="1314.6" y="1397.5">Maker00025120</text>
</g>
<g class="t" font-size="15.5" text-anchor="middle"><text x="1195" y="1415">Cc</text><text x="1229.5" y="1415">Ck</text><text x="1262.4" y="1415">Cl</text><text x="1296" y="1415">Cm</text></g>
</g>
<g id="eucalyptol"><text class="t m" x="1176" y="1451" text-anchor="middle">Eucalyptol</text><text class="t" x="1174" y="1470.4" font-size="19.5" text-anchor="middle">（Monoterpene）</text></g>

</g>
</svg>
